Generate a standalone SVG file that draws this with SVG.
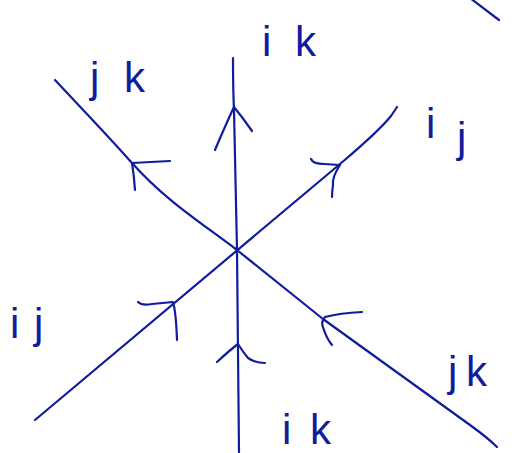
<svg xmlns="http://www.w3.org/2000/svg" width="516" height="453" viewBox="0 0 516 453">
<style>
.ln{fill:none;stroke:#0f1c9e;stroke-width:2.2;stroke-linecap:round;stroke-linejoin:round}
.lb{font-family:"Liberation Sans","DejaVu Sans",sans-serif;font-size:42px;fill:#0f1c9e}
</style>
<rect width="516" height="453" fill="#ffffff"/>
<g id="connectors">
<path class="ln" d="M233,58 Q233,90 234,110 L237,250 L239,452"/>
<path class="ln" d="M35,420 L340,164 C360,147 378,132 391,116 Q395,110 397,107"/>
<path class="ln" d="M55,80 C85,112 110,138 132,163 C165,200 200,222 237,250 L323,319 L470,425 Q488,438 497,447"/>
<path class="ln" d="M470,-2 L499,20"/>
<path class="ln" d="M215,150 Q226,124 234,107 Q243,118 252,131"/>
<path class="ln" d="M217,362 Q230,350 238,344 Q243,352 248,358 Q255,363 265,363"/>
<path class="ln" d="M311,159 Q313,164 324,164 L340,165 Q332,177 333,185 Q332,192 332,197"/>
<path class="ln" d="M138,302 Q142,306 152,304 L173,302 Q176,312 177,340"/>
<path class="ln" d="M170,161 L132,163 Q134,175 135,190"/>
<path class="ln" d="M362,312 Q340,313 325,317 Q320,322 324,330 Q327,339 332,345"/>
</g>
<g id="label-jk-top"><text class="lb" x="90 124" y="92">jk</text></g>
<g id="label-ik-top"><text class="lb" x="262 295" y="56">ik</text></g>
<g id="label-ij-right"><text class="lb" x="426 457" y="138 152">ij</text></g>
<g id="label-ij-left"><text class="lb" x="10 34" y="338">ij</text></g>
<g id="label-jk-bottom"><text class="lb" x="448 466" y="386">jk</text></g>
<g id="label-ik-bottom"><text class="lb" x="282 310" y="444">ik</text></g>
</svg>
